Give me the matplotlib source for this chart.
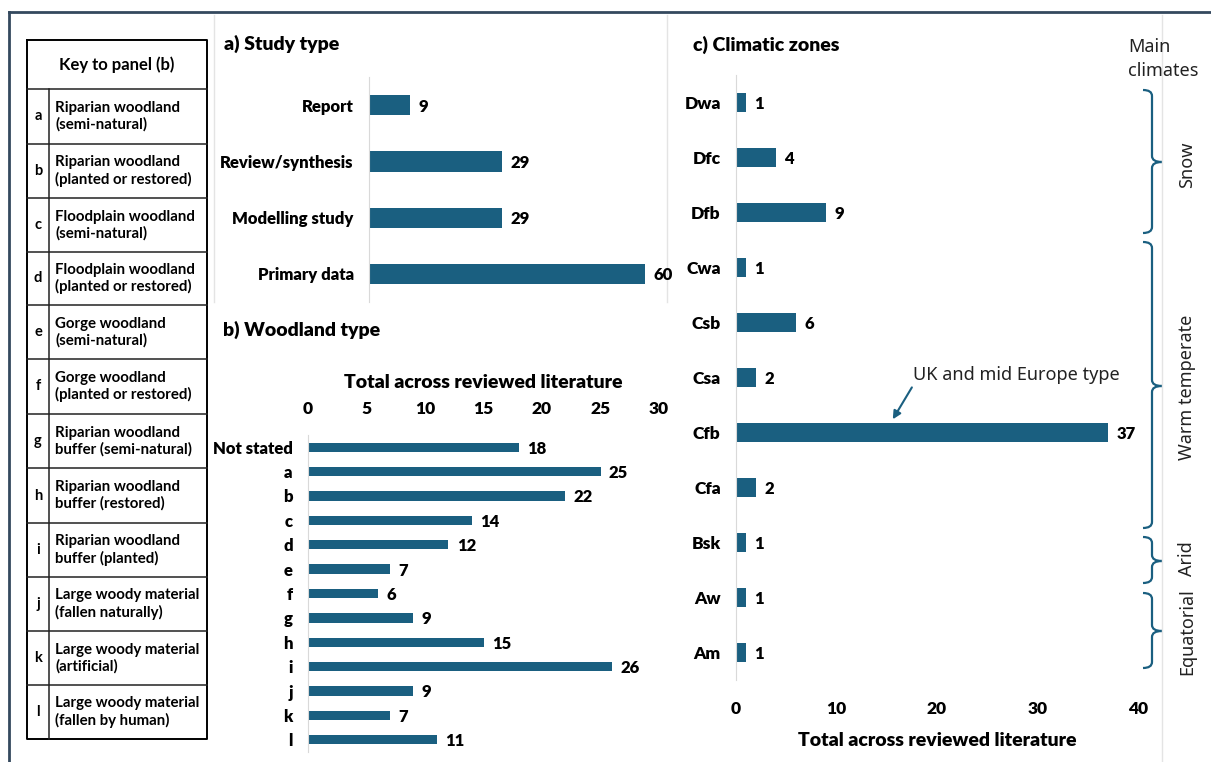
import matplotlib
matplotlib.use("Agg")
import matplotlib.pyplot as plt
from matplotlib.path import Path
from matplotlib.patches import PathPatch

# ---- data ----
study_types = ["Report", "Review/synthesis", "Modelling study", "Primary data"]
study_counts = [9, 29, 29, 60]

woodland_types = ["Not stated", "a", "b", "c", "d", "e", "f", "g", "h", "i", "j", "k", "l"]
woodland_counts = [18, 25, 22, 14, 12, 7, 6, 9, 15, 26, 9, 7, 11]

key_letters = ["a", "b", "c", "d", "e", "f", "g", "h", "i", "j", "k", "l"]
key_names = [
    "Riparian woodland\n(semi-natural)",
    "Riparian woodland\n(planted or restored)",
    "Floodplain woodland\n(semi-natural)",
    "Floodplain woodland\n(planted or restored)",
    "Gorge woodland\n(semi-natural)",
    "Gorge woodland\n(planted or restored)",
    "Riparian woodland\nbuffer (semi-natural)",
    "Riparian woodland\nbuffer (restored)",
    "Riparian woodland\nbuffer (planted)",
    "Large woody material\n(fallen naturally)",
    "Large woody material\n(artificial)",
    "Large woody material\n(fallen by human)",
]

climate_zones = ["Dwa", "Dfc", "Dfb", "Cwa", "Csb", "Csa", "Cfb", "Cfa", "Bsk", "Aw", "Am"]
climate_counts = [1, 4, 9, 1, 6, 2, 37, 2, 1, 1, 1]

# main climate groups: (name, first zone index, last zone index)
main_climates = [("Snow", 0, 2), ("Warm temperate", 3, 7), ("Arid", 8, 8), ("Equatorial", 9, 10)]

BAR = "#1a5f80"
BOLD = ["Lato", "DejaVu Sans"]
PLAIN = ["Noto Sans", "DejaVu Sans"]
HW = "heavy"
W, H = 1211, 762

fig = plt.figure(figsize=(W / 100, H / 100), dpi=100)
fig.patch.set_facecolor("white")


def px_axes(x0, y0, x1, y1, **kw):
    return fig.add_axes([x0 / W, 1 - y1 / H, (x1 - x0) / W, (y1 - y0) / H], **kw)


# overlay in pixel coordinates for frame, table and braces
bg = px_axes(0, 0, W, H)
bg.set_xlim(0, W)
bg.set_ylim(H, 0)
bg.axis("off")

# outer frame and faint panel borders
bg.plot([9, W], [12, 12], color="#34495e", lw=2)
bg.plot([9, 9], [12, H], color="#34495e", lw=2)
for x, y0, y1 in [(214, 15, 302), (667, 15, 302), (1162, 15, H)]:
    bg.plot([x, x], [y0, y1], color="#e4e4e4", lw=1)

# key table
tx0, tx1, tdiv = 27, 207, 49
rows = [40, 89, 144, 198, 252, 305, 359, 414, 468, 523, 577, 631, 685, 739]
bg.plot([tx0, tx1, tx1, tx0, tx0], [rows[0], rows[0], rows[-1], rows[-1], rows[0]], color="black", lw=1.4)
for y in rows[1:-1]:
    bg.plot([tx0, tx1], [y, y], color="#222222", lw=1.1)
bg.plot([tdiv, tdiv], [rows[1], rows[-1]], color="#222222", lw=1.1)
bg.text((tx0 + tx1) / 2, (rows[0] + rows[1]) / 2, "Key to panel (b)", ha="center", va="center",
        fontsize=12, fontweight="bold", family=BOLD)
for i, (let, name) in enumerate(zip(key_letters, key_names)):
    yc = (rows[i + 1] + rows[i + 2]) / 2
    bg.text((tx0 + tdiv) / 2, yc, let, ha="center", va="center", fontsize=10.5,
            fontweight="bold", family=BOLD)
    bg.text(tdiv + 6, yc, name, ha="left", va="center", fontsize=10.8, fontweight="bold",
            family=BOLD, linespacing=1.2)


def style(ax):
    for s in ["top", "right", "bottom"]:
        ax.spines[s].set_visible(False)
    ax.spines["left"].set_color("#d9d9d9")
    ax.tick_params(axis="y", length=0, pad=11)
    ax.tick_params(axis="x", length=0)
    ax.set_facecolor("none")


def bar_labels(ax, vals, ys):
    for v, y in zip(vals, ys):
        ax.annotate(str(v), (v, y), xytext=(6, -1), textcoords="offset points",
                    ha="left", va="center", fontsize=12, fontweight=HW, family=BOLD)


# a) study type
ax_a = px_axes(369, 77, 369 + 4.6 * 62, 302)
ya = list(range(len(study_types)))
ax_a.barh(ya, study_counts, height=0.36, color=BAR)
ax_a.set_xlim(0, 62)
ax_a.set_ylim(len(study_types) - 0.5, -0.5)
ax_a.set_yticks(ya)
ax_a.set_yticklabels(study_types, fontsize=12, fontweight=HW, family=BOLD)
ax_a.set_xticks([])
style(ax_a)
bar_labels(ax_a, study_counts, ya)
bg.text(224, 44, "a) Study type", ha="left", va="center", fontsize=14, fontweight=HW, family=BOLD)

# b) woodland type
ax_b = px_axes(308, 435, 659, 752)
yb = list(range(len(woodland_types)))
ax_b.barh(yb, woodland_counts, height=0.38, color=BAR)
ax_b.set_xlim(0, 30)
ax_b.set_ylim(len(woodland_types) - 0.5, -0.5)
ax_b.set_yticks(yb)
ax_b.set_yticklabels(woodland_types, fontsize=12, fontweight=HW, family=BOLD)
ax_b.xaxis.tick_top()
ax_b.xaxis.set_label_position("top")
ax_b.set_xticks(range(0, 31, 5))
ax_b.set_xticklabels([str(t) for t in range(0, 31, 5)], fontsize=12.5, fontweight=HW, family=BOLD)
ax_b.tick_params(axis="x", pad=13)
ax_b.set_xlabel("Total across reviewed literature", fontsize=14, fontweight=HW, family=BOLD, labelpad=9)
style(ax_b)
bar_labels(ax_b, woodland_counts, yb)
bg.text(223, 330, "b) Woodland type", ha="left", va="center", fontsize=14, fontweight=HW, family=BOLD)

# c) climatic zones
ax_c = px_axes(736, 75, 1138, 680)
yc_ = list(range(len(climate_zones)))
ax_c.barh(yc_, climate_counts, height=0.35, color=BAR)
ax_c.set_xlim(0, 40)
ax_c.set_ylim(len(climate_zones) - 0.5, -0.5)
ax_c.set_yticks(yc_)
ax_c.set_yticklabels(climate_zones, fontsize=12.5, fontweight=HW, family=BOLD)
ax_c.set_xticks(range(0, 41, 10))
ax_c.set_xticklabels([str(t) for t in range(0, 41, 10)], fontsize=12.5, fontweight=HW, family=BOLD)
ax_c.tick_params(axis="x", pad=15)
ax_c.set_xlabel("Total across reviewed literature", fontsize=14, fontweight=HW, family=BOLD, labelpad=11)
style(ax_c)
bar_labels(ax_c, climate_counts, yc_)
bg.text(693, 45, "c) Climatic zones", ha="left", va="center", fontsize=14, fontweight=HW, family=BOLD)

# callout on the Cfb bar
ax_c.annotate("", xy=(15.6, 5.76), xytext=(17.5, 5.18),
              arrowprops=dict(arrowstyle="-|>", color=BAR, lw=1.5, mutation_scale=12,
                              shrinkA=0, shrinkB=0))
ax_c.text(17.6, 4.95, "UK and mid Europe type", ha="left", va="center", fontsize=13, family=PLAIN,
          color="#222222")

# braces for the main climate groups
bg.text(1128, 47, "Main", ha="left", va="center", fontsize=13, family=PLAIN, color="#222222")
bg.text(1128, 71, "climates", ha="left", va="center", fontsize=13, family=PLAIN, color="#222222")
brace_px = [(90, 162, 233), (242, 386, 528), (537, 561, 583), (593, 631, 668)]
label_y = [165, 387, 559, 632]
x0, x1, x2, r = 1143, 1152, 1162, 6
codes = [Path.MOVETO, Path.CURVE3, Path.CURVE3, Path.LINETO, Path.CURVE3, Path.CURVE3,
         Path.CURVE3, Path.CURVE3, Path.LINETO, Path.CURVE3, Path.CURVE3]
for (name, _, _), (top, mid, bot), ly in zip(main_climates, brace_px, label_y):
    verts = [(x0, top), (x1, top), (x1, top + r), (x1, mid - r), (x1, mid), (x2, mid),
             (x1, mid), (x1, mid + r), (x1, bot - r), (x1, bot), (x0, bot)]
    bg.add_patch(PathPatch(Path(verts, codes), fill=False, edgecolor=BAR, lw=1.6))
    bg.text(1187, ly, name, rotation=90, ha="center", va="center", fontsize=13,
            family=PLAIN, color="#222222")

fig.savefig("out.png", dpi=100)
